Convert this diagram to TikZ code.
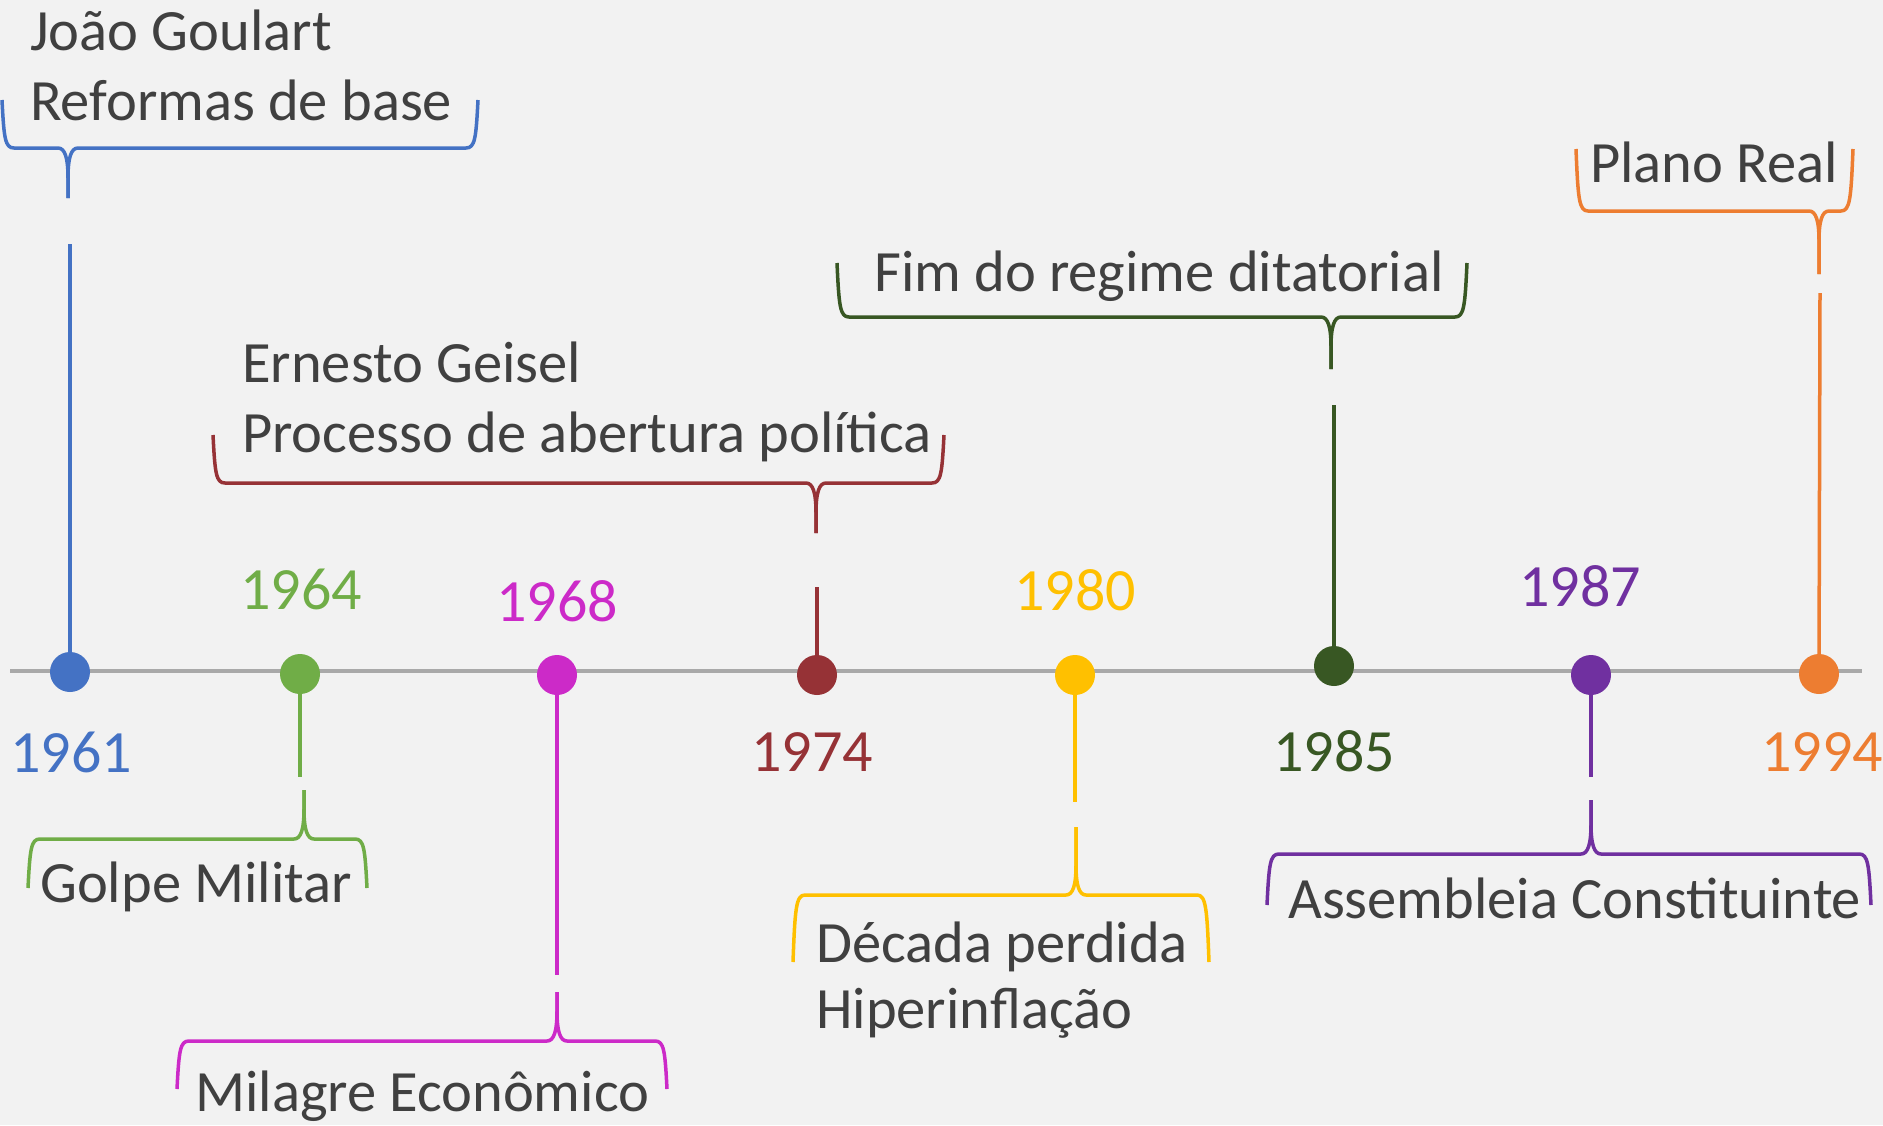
\documentclass[tikz,border=0pt]{standalone}
\usepackage{fontspec}
\setmainfont{Carlito}
\definecolor{bgc}{HTML}{F2F2F2}
\definecolor{axisc}{HTML}{A9A9A9}
\definecolor{txtc}{HTML}{404040}
\definecolor{cA}{HTML}{4472C4}
\definecolor{cB}{HTML}{70AD47}
\definecolor{cC}{HTML}{CC2AC8}
\definecolor{cD}{HTML}{963236}
\definecolor{cE}{HTML}{FFC000}
\definecolor{cF}{HTML}{385723}
\definecolor{cG}{HTML}{7030A0}
\definecolor{cH}{HTML}{ED7D31}
\tikzset{
  dot/.style={circle, inner sep=0pt, minimum size=40pt, draw=none},
  stem/.style={line width=3.5pt},
  brace/.style={line width=3.5pt, line join=round},
  axisline/.style={line width=3.5pt, draw=axisc},
  txt/.style={anchor=base west, inner sep=0pt, text=txtc, font=\fontsize{58.5}{70}\selectfont},
  yr/.style={anchor=base, inner sep=0pt, font=\fontsize{60}{72}\selectfont},
}
% color, xL, xR, xT, yH, yE, yTip
\newcommand\tlbrace[7]{%
  \pgfmathsetmacro\dd{(#7>#5) ? 1 : -1}%
  \draw[brace,#1] (#2,#6) .. controls ({#2+2},{#5+0.2*(#6-#5)}) and ({#2+3},#5) .. ({#2+12},#5)
     -- ({#4-10},#5) .. controls ({#4-3},#5) and (#4,{#5+10*\dd}) .. (#4,{#5+30*\dd}) -- (#4,#7);
  \draw[brace,#1] (#4,#7) -- (#4,{#5+30*\dd}) .. controls (#4,{#5+10*\dd}) and ({#4+3},#5) .. ({#4+10},#5)
     -- ({#3-12},#5) .. controls ({#3-3},#5) and ({#3-2},{#5+0.2*(#6-#5)}) .. (#3,#6);
}
\begin{document}
\begin{tikzpicture}[x=1pt,y=-1pt]
\fill[bgc] (0,0) rectangle (1883,1125);
\useasboundingbox (0,0) rectangle (1883,1125);

% axis
\coordinate (axL) at (10,671);
\coordinate (axR) at (1862,671);
\draw[axisline] (axL) -- (axR);

% dots
\node[dot, fill=cA] (d61) at (70,672) {};
\node[dot, fill=cB] (d64) at (300,674) {};
\node[dot, fill=cC] (d68) at (557,675) {};
\node[dot, fill=cD] (d74) at (817,675) {};
\node[dot, fill=cE] (d80) at (1075,675) {};
\node[dot, fill=cF] (d85) at (1334,666) {};
\node[dot, fill=cG] (d87) at (1591,675) {};
\node[dot, fill=cH] (d94) at (1819,674) {};

% stem ends
\coordinate (s61) at (70,244);
\coordinate (s64) at (300,777);
\coordinate (s68) at (557,975);
\coordinate (s74) at (817,587);
\coordinate (s80) at (1075,802);
\coordinate (s85) at (1334,405);
\coordinate (s87) at (1591,777);
\coordinate (s94) at (1820,293);

\draw[stem, cA] (d61) -- (s61);
\draw[stem, cB] (d64) -- (s64);
\draw[stem, cC] (d68) -- (s68);
\draw[stem, cD] (d74) -- (s74);
\draw[stem, cE] (d80) -- (s80);
\draw[stem, cF] (d85) -- (s85);
\draw[stem, cG] (d87) -- (s87);
\draw[stem, cH] (d94) -- (s94);

% braces
\tlbrace{cA}{2}{478}{68}{148}{100}{198}
\tlbrace{cB}{28}{367}{304}{839}{888}{790}
\tlbrace{cC}{177}{667}{557}{1041}{1089}{992}
\tlbrace{cD}{213}{944}{816}{483}{435}{533}
\tlbrace{cE}{793}{1209}{1076}{895}{962}{827}
\tlbrace{cF}{837}{1467}{1331}{317}{263}{369}
\tlbrace{cG}{1267}{1871}{1591}{854}{905}{800}
\tlbrace{cH}{1576}{1853}{1819}{211}{149}{274}

% years
\node[yr, text=cA] (y61) at (71,772) {1961};
\node[yr, text=cB] (y64) at (301,609) {1964};
\node[yr, text=cC] (y68) at (557,621) {1968};
\node[yr, text=cD] (y74) at (812,771) {1974};
\node[yr, text=cE] (y80) at (1075,610) {1980};
\node[yr, text=cF] (y85) at (1334,771) {1985};
\node[yr, text=cG] (y87) at (1580,606) {1987};
\node[yr, text=cH] (y94) at (1822,771) {1994};

% texts
\node[txt] (t61a) at (30,50) {João Goulart};
\node[txt] (t61b) at (30,120) {Reformas de base};
\node[txt] (t64) at (40,902) {Golpe Militar};
\node[txt] (t68) at (195,1111) {Milagre Econômico};
\node[txt] (t74a) at (242,382) {Ernesto Geisel};
\node[txt] (t74b) at (242,452) {Processo de abertura política};
\node[txt] (t80a) at (816,962) {Década perdida};
\node[txt] (t80b) at (816,1028) {Hiperinflação};
\node[txt] (t85) at (874,291) {Fim do regime ditatorial};
\node[txt] (t87) at (1288,918) {Assembleia Constituinte};
\node[txt] (t94) at (1590,182) {Plano Real};
\end{tikzpicture}
\end{document}
